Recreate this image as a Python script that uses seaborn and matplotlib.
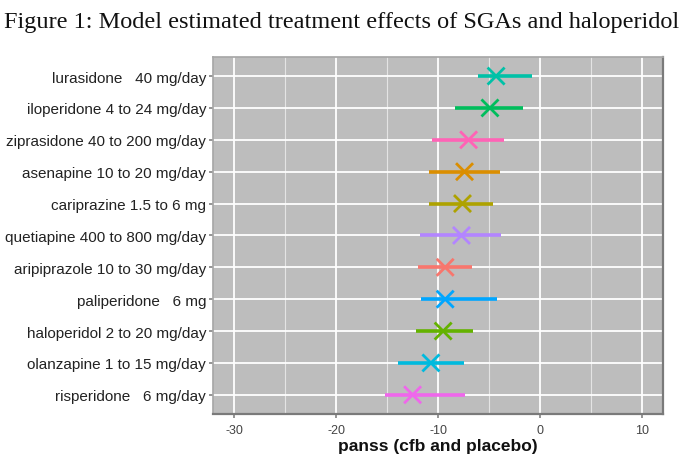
import numpy as np
import pandas as pd
import matplotlib
matplotlib.use("Agg")
import matplotlib.pyplot as plt
import seaborn as sns

# top-to-bottom order as shown
labels = [
    "lurasidone   40 mg/day",
    "iloperidone 4 to 24 mg/day",
    "ziprasidone 40 to 200 mg/day",
    "asenapine 10 to 20 mg/day",
    "cariprazine 1.5 to 6 mg",
    "quetiapine 400 to 800 mg/day",
    "aripiprazole 10 to 30 mg/day",
    "paliperidone   6 mg",
    "haloperidol 2 to 20 mg/day",
    "olanzapine 1 to 15 mg/day",
    "risperidone   6 mg/day",
]
drugs = ["lurasidone", "iloperidone", "ziprasidone", "asenapine", "cariprazine",
         "quetiapine", "aripiprazole", "paliperidone", "haloperidol", "olanzapine",
         "risperidone"]
estimate = [-4.3, -4.9, -7.0, -7.4, -7.6, -7.7, -9.3, -9.3, -9.5, -10.7, -12.5]
lower = [-6.1, -8.3, -10.6, -10.9, -10.85, -11.8, -12.0, -11.7, -12.2, -13.95, -15.2]
upper = [-0.8, -1.7, -3.5, -3.9, -4.6, -3.8, -6.7, -4.25, -6.6, -7.5, -7.35]

# ggplot-style hue colours, alphabetical by drug
hue_colors = {
    "aripiprazole": "#F8766D", "asenapine": "#DB8E00", "cariprazine": "#AEA200",
    "haloperidol": "#64B200", "iloperidone": "#00BD5C", "lurasidone": "#00C1A7",
    "olanzapine": "#00BADE", "paliperidone": "#00A6FF", "quetiapine": "#B385FF",
    "risperidone": "#EF67EB", "ziprasidone": "#FF63B6",
}

df = pd.DataFrame({"label": labels, "drug": drugs, "est": estimate,
                   "lo": lower, "hi": upper})
df["pos"] = np.arange(len(df))

sns.set_theme(style="white")
plt.rcParams["font.family"] = ["Liberation Sans", "DejaVu Sans"]
plt.rcParams["axes.unicode_minus"] = False

fig = plt.figure(figsize=(6.85, 4.6), dpi=100)
ax = fig.add_axes([0.311, 0.098, 0.657, 0.776])
ax.set_facecolor("#bdbdbd")

ax.hlines(df["pos"], df["lo"], df["hi"],
          colors=[hue_colors[d] for d in df["drug"]], linewidth=2.6, zorder=3)
sns.scatterplot(data=df, x="est", y="pos", hue="drug", palette=hue_colors,
                marker="x", s=150, linewidth=2.0, legend=False, ax=ax, zorder=4)

ax.set_xlim(-32.1, 12.1)
ax.set_ylim(len(df) - 0.4, -0.6)
ax.set_xticks([-30, -20, -10, 0, 10])
ax.set_xticks([-25, -15, -5, 5], minor=True)
ax.set_yticks(df["pos"])
ax.set_yticklabels(df["label"])
ax.grid(True, which="major", color="white", linewidth=1.3, zorder=0)
ax.grid(True, which="minor", axis="x", color="#e4e4e4", linewidth=0.8, zorder=0)
ax.set_axisbelow(True)

ax.tick_params(axis="y", which="major", length=3, color="#888888",
               labelsize=11, labelcolor="#222222", pad=2, left=True)
ax.tick_params(axis="x", which="major", length=3, color="#888888",
               labelsize=9, labelcolor="#444444", pad=4, bottom=True)
ax.tick_params(axis="x", which="minor", length=0)

for side in ["top", "left"]:
    ax.spines[side].set_color("#a8a8a8")
for side in ["bottom", "right"]:
    ax.spines[side].set_color("#7a7a7a")
    ax.spines[side].set_linewidth(1.6)

ax.set_ylabel("")
ax.set_xlabel("panss (cfb and placebo)", fontsize=12.5, fontweight="bold",
              color="#111111", labelpad=2)

fig.text(0.006, 0.952, "Figure 1: Model estimated treatment effects of SGAs and haloperidol",
         family=["Liberation Serif", "DejaVu Serif"], fontsize=17.5, ha="left", va="center",
         color="#111111")

fig.savefig("out.png", dpi=100, facecolor="white")
